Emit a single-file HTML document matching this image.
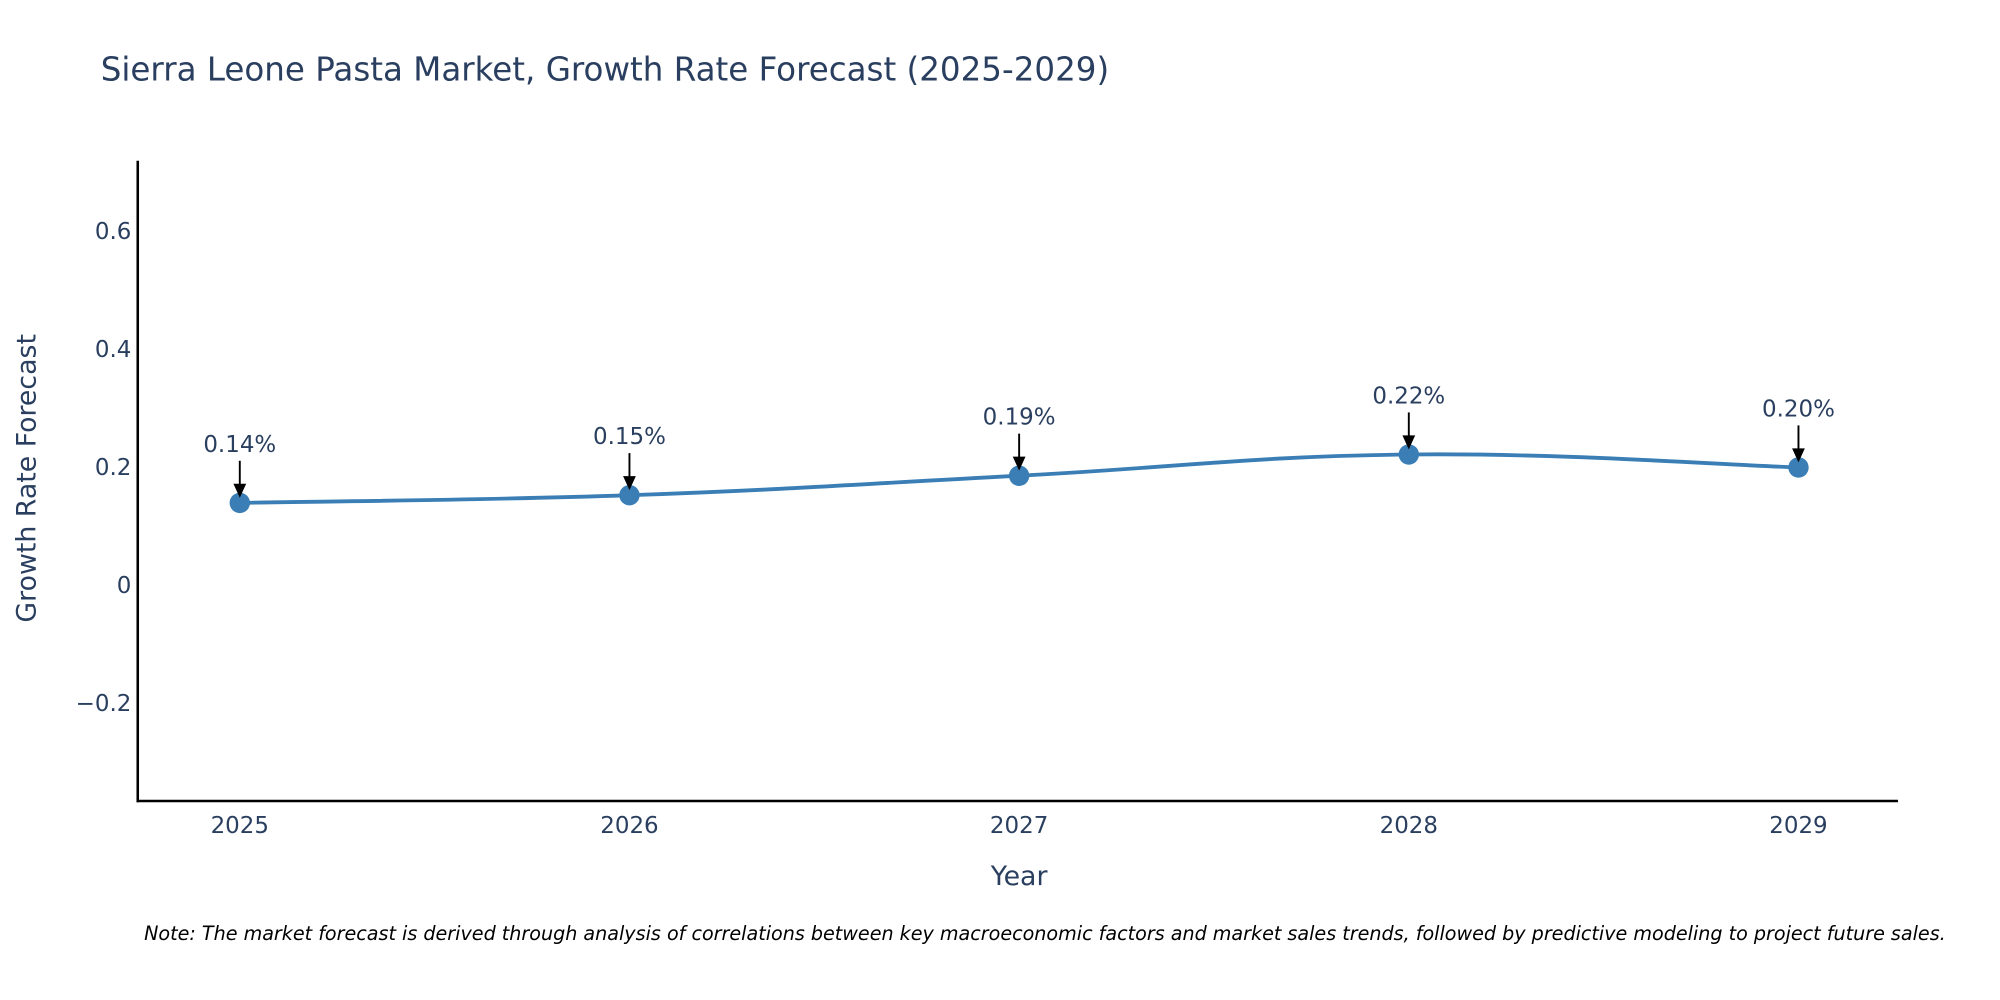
<!DOCTYPE html>
<html><head><meta charset="utf-8"><style>html,body{margin:0;padding:0;background:#fff}svg{display:block}</style></head>
<body>
<svg id="chart" width="2000" height="1000" viewBox="0 0 1568 784" xmlns="http://www.w3.org/2000/svg" font-family="DejaVu Sans, Liberation Sans, sans-serif">
<text x="79" y="63" font-size="25.5" fill="#2a3f5f">Sierra Leone Pasta Market, Growth Rate Forecast (2025-2029)</text>
<g id="yticks"></g><g id="xticks"></g>
<line x1="108" y1="126" x2="108" y2="629" stroke="#000" stroke-width="2"/>
<line x1="107" y1="628" x2="1488" y2="628" stroke="#000" stroke-width="2"/>
<text transform="translate(28,375) rotate(-90)" text-anchor="middle" font-size="21" fill="#2a3f5f">Growth Rate Forecast</text>
<text x="799" y="694" text-anchor="middle" font-size="21" fill="#2a3f5f">Year</text>
<text x="113" y="737" font-size="15" font-style="italic" fill="#000">Note: The market forecast is derived through analysis of correlations between key macroeconomic factors and market sales trends, followed by predictive modeling to project future sales.</text>
<g id="series"></g>
</svg>
<script>
const years = [2025, 2026, 2027, 2028, 2029];
const growth = [0.14, 0.153, 0.186, 0.222, 0.20];
const labels = ["0.14%", "0.15%", "0.19%", "0.22%", "0.20%"];
const yTicks = [0.6, 0.4, 0.2, 0, -0.2];
const yTickLabels = ["0.6", "0.4", "0.2", "0", "\u22120.2"];

const NS = "http://www.w3.org/2000/svg";
function xScale(yr){ return 188 + (yr - 2025) * 305.5; }
function yScale(v){ return 459 - v * 462.5; }
function mk(tag, attrs, parent){ const e = document.createElementNS(NS, tag); for (const k in attrs) e.setAttribute(k, attrs[k]); parent.appendChild(e); return e; }

const yg = document.getElementById('yticks');
yTicks.forEach((t,i)=>{
  const el = mk('text', {x:103, y:yScale(t)+6, 'text-anchor':'end', 'font-size':18, fill:'#2a3f5f'}, yg);
  
  
  el.textContent = yTickLabels[i];
});
const xg = document.getElementById('xticks');
years.forEach(yr=>{
  const el = mk('text', {x:xScale(yr), y:653, 'text-anchor':'middle', 'font-size':18, fill:'#2a3f5f'}, xg);
  
  
  el.textContent = String(yr);
});

const sg = document.getElementById('series');
const pts = years.map((yr,i)=>[xScale(yr), yScale(growth[i])]);
let d = `M${pts[0][0]},${pts[0][1]}`;
for (let i=0;i<pts.length-1;i++){
  const p0 = pts[Math.max(0,i-1)], p1 = pts[i], p2 = pts[i+1], p3 = pts[Math.min(pts.length-1,i+2)];
  const t = 0.2;
  const c1 = [p1[0]+(p2[0]-p0[0])*t, p1[1]+(p2[1]-p0[1])*t];
  const c2 = [p2[0]-(p3[0]-p1[0])*t, p2[1]-(p3[1]-p1[1])*t];
  d += ` C${c1[0]},${c1[1]} ${c2[0]},${c2[1]} ${p2[0]},${p2[1]}`;
}
const line = mk('path', {d:d, fill:'none', stroke:'#3a7eb5', 'stroke-width':3}, sg);


pts.forEach((p,i)=>{
  const c = mk('circle', {cx:p[0], cy:p[1], r:8, fill:'#3a7eb5'}, sg);
  
  
  const a = mk('line', {x1:p[0], y1:p[1]-33, x2:p[0], y2:p[1]-12, stroke:'#000', 'stroke-width':1.5}, sg);
  
  
  const h = mk('polygon', {points:`${p[0]-5},${p[1]-15} ${p[0]+5},${p[1]-15} ${p[0]},${p[1]-4}`, fill:'#000'}, sg);
  
  
  const tx = mk('text', {x:p[0], y:p[1]-40, 'text-anchor':'middle', 'font-size':18, fill:'#2a3f5f'}, sg);
  
  
  tx.textContent = labels[i];
});
</script>
</body></html>
